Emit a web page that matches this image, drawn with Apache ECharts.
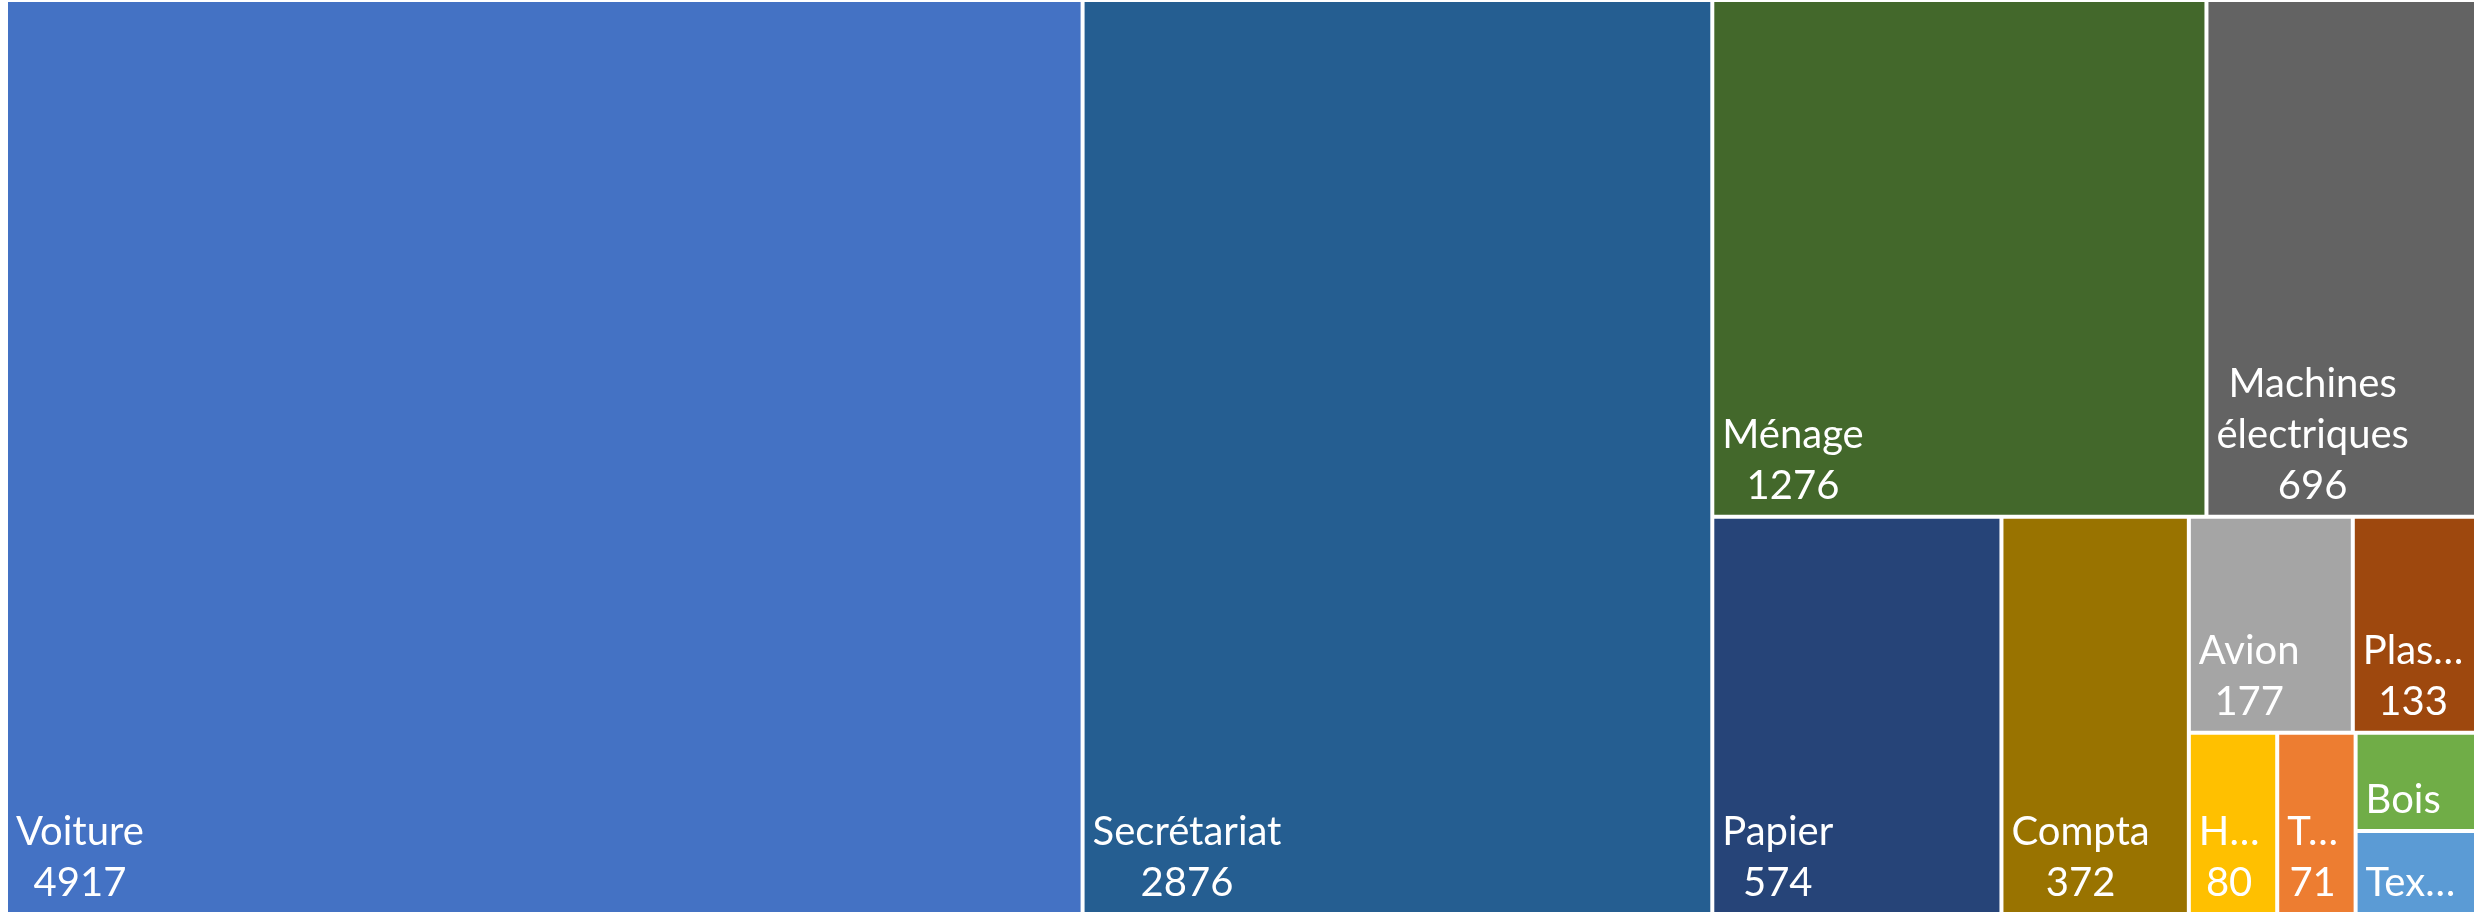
<!DOCTYPE html>
<html lang="fr">
<head>
    <meta charset="UTF-8">
    <title>Treemap</title>
    <script src="https://cdn.jsdelivr.net/npm/echarts@6/dist/echarts.min.js"></script>
    <style>
        html, body { margin: 0; padding: 0; background: #fff; }
        #main { width: 2474px; height: 912px; }
    </style>
</head>
<body>
<div id="main"></div>
<script>
    // données du graphique
    var names = ['Voiture', 'Secrétariat', 'Ménage', 'Machines\nélectriques', 'Papier', 'Compta',
                 'Avion', 'Plas…', 'H…', 'T…', 'Bois', 'Tex…'];
    var values = [4917, 2876, 1276, 696, 574, 372, 177, 133, 80, 71, 59, 50];
    var colors = ['#4472C4', '#255E91', '#43682B', '#636363', '#264478', '#997300',
                  '#A5A5A5', '#9E480E', '#FFC000', '#ED7D31', '#70AD47', '#5B9BD5'];
    // regroupement des indices pour retrouver la disposition d'Excel
    var groups = [0, 1, [[2, 3], [4, 5, [[6, 7], [8, [9, [10, 11]]]]]]];

    var FONT_SIZE = 40;
    var PAD = 8;
    var ctx = document.createElement('canvas').getContext('2d');
    ctx.font = FONT_SIZE + 'px Lato';

    function build(g) {
        if (typeof g === 'number') {
            var lines = (names[g] + '\n' + values[g]).split('\n');
            var w = 0;
            for (var i = 0; i < lines.length; i++) {
                w = Math.max(w, ctx.measureText(lines[i]).width);
            }
            return {
                name: names[g],
                value: values[g],
                itemStyle: { color: colors[g], borderWidth: 2 },
                // lignes centrées entre elles, bloc en bas à gauche
                label: { position: [PAD + w / 2, '100%'] }
            };
        }
        return { name: '', children: g.map(build), label: { show: false } };
    }

    var myChart = echarts.init(document.getElementById('main'));
    var option = {
        animation: false,
        series: [{
            type: 'treemap',
            left: 6,
            top: 0,
            width: 2470,
            height: 914,
            sort: false,
            squareRatio: 1,
            roam: false,
            nodeClick: false,
            silent: true,
            breadcrumb: { show: false },
            itemStyle: { borderColor: '#fff', borderWidth: 0, gapWidth: 0 },
            label: {
                show: true,
                color: '#fff',
                fontFamily: 'Lato',
                fontSize: FONT_SIZE,
                lineHeight: 51,
                align: 'center',
                verticalAlign: 'bottom',
                padding: [0, 0, 3, 0],
                overflow: 'none',
                formatter: '{b}\n{c}'
            },
            data: groups.map(build)
        }]
    };
    myChart.setOption(option);
</script>
</body>
</html>
